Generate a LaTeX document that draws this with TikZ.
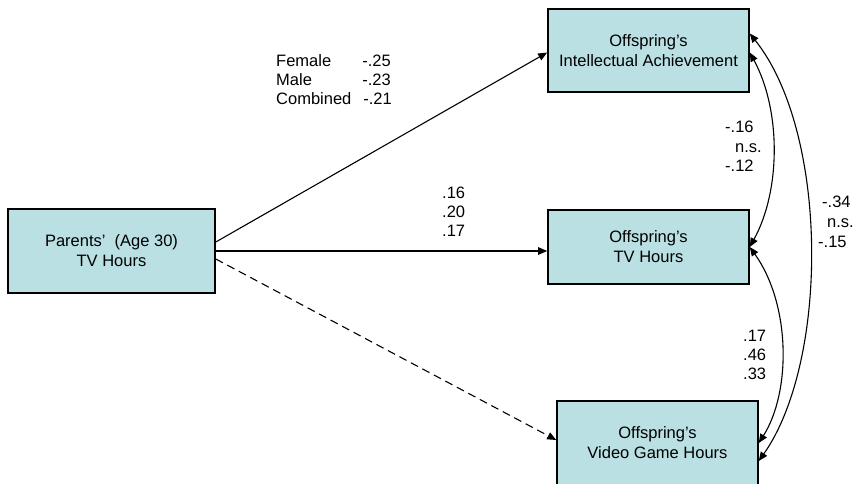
\documentclass[tikz,border=0pt]{standalone}
\usepackage{fontspec}
\setmainfont{Liberation Sans}
\usetikzlibrary{arrows.meta}
\definecolor{boxfill}{RGB}{186,224,227}
\begin{document}
\begin{tikzpicture}[x=1pt,y=-1pt,
  every node/.style={font=\fontsize{16.5}{20}\selectfont},
  varbox/.style={draw=black, line width=1.6pt, fill=boxfill, align=center, inner sep=0pt},
  pathline/.style={line width=1.1pt, -{Triangle[length=9pt,width=7.5pt]}},
  corrline/.style={line width=1.1pt, {Triangle[length=9pt,width=7.5pt]}-{Triangle[length=9pt,width=7.5pt]}},
  est/.style={inner sep=0pt, anchor=base west}
]
\useasboundingbox (0,0) rectangle (855,483);

% variables
\node[varbox, minimum width=207pt, minimum height=84pt] (par) at (111.5,251) {Parents’\ \ (Age 30)\\TV Hours};
\node[varbox, minimum width=201pt, minimum height=83pt] (ia) at (648.5,50.5) {Offspring’s\\Intellectual Achievement};
\node[varbox, minimum width=201pt, minimum height=74pt] (tv) at (648.5,247) {Offspring’s\\TV Hours};
\node[varbox, minimum width=201pt, minimum height=84pt] (vg) at (657.5,443) {Offspring’s\\Video Game Hours};

% regression paths
\draw[pathline] ([yshift=9pt]par.east) -- ([yshift=-2pt]ia.west);
\draw[pathline] (par.east) -- (par.east -| tv.west);
\draw[pathline, dash pattern=on 8pt off 5pt] ([yshift=-8pt]par.east) -- ([yshift=3pt]vg.west);

% correlations among offspring outcomes
\draw[corrline] ([yshift=-2pt]ia.east) .. controls (781,110) and (781,190) .. (tv.east);
\draw[corrline] (tv.east) .. controls (791,305) and (791,392) .. (vg.east);
\draw[corrline] ([yshift=17pt]ia.east) .. controls (829,133) and (829,361) .. ([yshift=-18pt]vg.east);

% estimates: Parents -> Intellectual Achievement
\node[est] (lf) at (276,66) {Female};
\node[est] (lm) at (276,85) {Male};
\node[est] (lc) at (276,104) {Combined};
\node[inner sep=0pt, anchor=base east] (vf) at (391,66) {-.25};
\node[inner sep=0pt, anchor=base east] (vm) at (391,85) {-.23};
\node[inner sep=0pt, anchor=base east] (vc) at (392,104) {-.21};

% estimates: Parents -> Offspring TV
\node[est] (t1) at (442,198) {.16};
\node[est] (t2) at (442,217) {.20};
\node[est] (t3) at (442,236) {.17};

% estimates: Achievement <-> TV
\node[est] (a1) at (725,132) {-.16};
\node[est] (a2) at (735,152) {n.s.};
\node[est] (a3) at (725,171) {-.12};

% estimates: TV <-> Video games
\node[est] (b1) at (743,341) {.17};
\node[est] (b2) at (743,360) {.46};
\node[est] (b3) at (743,379) {.33};

% estimates: Achievement <-> Video games
\node[est] (c1) at (822,207) {-.34};
\node[est] (c2) at (827,227) {n.s.};
\node[est] (c3) at (818,247) {-.15};
\end{tikzpicture}
\end{document}
